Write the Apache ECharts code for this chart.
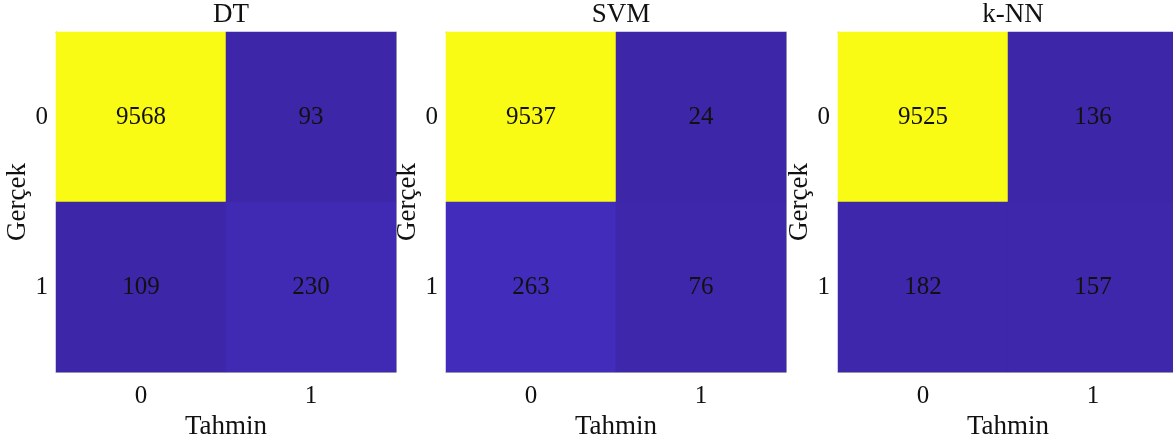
<!DOCTYPE html>
<html><head><meta charset="utf-8">
<script src="https://cdn.jsdelivr.net/npm/echarts@6/dist/echarts.min.js"></script>
<style>html,body{margin:0;padding:0;background:#fff}#c{width:1173px;height:441px}</style>
</head><body><div id="c"></div>
<script>
const modelNames = ['DT', 'SVM', 'k-NN'];
const classLabels = ['0', '1'];
const xAxisTitle = 'Tahmin';
const yAxisTitle = 'Gerçek';
// confusion matrices: [actual row][predicted col]
const dtMatrix  = [[9568, 93], [109, 230]];
const svmMatrix = [[9537, 24], [263, 76]];
const knnMatrix = [[9525, 136], [182, 157]];
const matrices = [dtMatrix, svmMatrix, knnMatrix];

const parula = [
[0.2422,0.1504,0.6603],[0.2504,0.1650,0.7076],[0.2578,0.1818,0.7511],[0.2647,0.1978,0.7952],
[0.2706,0.2147,0.8364],[0.2751,0.2342,0.8710],[0.2783,0.2559,0.8991],[0.2803,0.2782,0.9221],
[0.2813,0.3006,0.9414],[0.2810,0.3228,0.9579],[0.2795,0.3447,0.9717],[0.2760,0.3667,0.9829],
[0.2699,0.3892,0.9906],[0.2602,0.4123,0.9952],[0.2440,0.4358,0.9988],[0.2206,0.4603,0.9973],
[0.1963,0.4847,0.9892],[0.1834,0.5074,0.9798],[0.1786,0.5289,0.9682],[0.1764,0.5499,0.9520],
[0.1687,0.5703,0.9359],[0.1540,0.5902,0.9218],[0.1460,0.6091,0.9079],[0.1380,0.6276,0.8973],
[0.1248,0.6459,0.8883],[0.1113,0.6635,0.8763],[0.0952,0.6798,0.8598],[0.0689,0.6948,0.8394],
[0.0297,0.7082,0.8163],[0.0036,0.7203,0.7917],[0.0067,0.7312,0.7660],[0.0433,0.7411,0.7394],
[0.0964,0.7500,0.7120],[0.1408,0.7584,0.6842],[0.1717,0.7670,0.6554],[0.1938,0.7758,0.6251],
[0.2161,0.7843,0.5923],[0.2470,0.7918,0.5567],[0.2906,0.7973,0.5188],[0.3406,0.8008,0.4789],
[0.3909,0.8029,0.4354],[0.4456,0.8024,0.3909],[0.5044,0.7993,0.3480],[0.5616,0.7942,0.3045],
[0.6174,0.7876,0.2612],[0.6720,0.7793,0.2227],[0.7242,0.7698,0.1910],[0.7738,0.7598,0.1646],
[0.8203,0.7498,0.1535],[0.8634,0.7406,0.1596],[0.9035,0.7330,0.1774],[0.9393,0.7288,0.2100],
[0.9728,0.7298,0.2394],[0.9956,0.7434,0.2371],[0.9970,0.7659,0.2199],[0.9952,0.7893,0.2028],
[0.9892,0.8136,0.1885],[0.9786,0.8386,0.1766],[0.9676,0.8639,0.1643],[0.9610,0.8890,0.1537],
[0.9597,0.9135,0.1423],[0.9628,0.9373,0.1265],[0.9691,0.9606,0.1064],[0.9769,0.9839,0.0805]
].map(c => 'rgb(' + c.map(v => Math.round(v * 255)).join(',') + ')');

const FONT = '"Liberation Serif","Times New Roman",serif';
const grids = [
  {left: 56, top: 32, width: 340, height: 340},
  {left: 446, top: 32, width: 340, height: 340},
  {left: 838, top: 32, width: 340, height: 340}
];
const axisLineCol = '#b4b4b4';

const option = {
  backgroundColor: '#fff',
  animation: false,
  title: [], grid: [], xAxis: [], yAxis: [], series: [], visualMap: []
};

matrices.forEach((m, i) => {
  const g = grids[i];
  option.grid.push({left: g.left, top: g.top, width: g.width, height: g.height,
    containLabel: false, outerBoundsMode: 'none'});
  option.title.push({
    text: modelNames[i], left: g.left + g.width / 2, top: -4, textAlign: 'center',
    textStyle: {fontFamily: FONT, fontSize: 27, fontWeight: 'normal', color: '#111'}
  });
  const common = {
    type: 'category', data: classLabels, gridIndex: i,
    axisLine: {show: true, lineStyle: {color: axisLineCol, width: 1}},
    axisTick: {show: true, inside: true, alignWithLabel: true, length: 4, lineStyle: {color: '#666'}},
    splitLine: {show: false}
  };
  option.xAxis.push(Object.assign({}, common, {
    position: 'bottom',
    axisLabel: {fontFamily: FONT, fontSize: 25, color: '#111', margin: 12},
    name: xAxisTitle, nameLocation: 'middle', nameGap: 37,
    nameTextStyle: {fontFamily: FONT, fontSize: 27, color: '#111'}
  }));
  option.xAxis.push(Object.assign({}, common, {
    position: 'top', axisLabel: {show: false}
  }));
  option.yAxis.push(Object.assign({}, common, {
    position: 'left', inverse: true,
    axisLabel: {fontFamily: FONT, fontSize: 25, color: '#111', margin: 8},
    name: yAxisTitle, nameLocation: 'middle', nameGap: 23, nameRotate: 90,
    nameTextStyle: {fontFamily: FONT, fontSize: 27, color: '#111'}
  }));
  option.yAxis.push(Object.assign({}, common, {
    position: 'right', inverse: true, axisLabel: {show: false}
  }));
  const data = [];
  m.forEach((row, r) => row.forEach((v, c) => data.push([c, r, v])));
  const flat = m.flat();
  option.visualMap.push({
    show: false, seriesIndex: i, dimension: 2,
    min: Math.min(...flat), max: Math.max(...flat),
    inRange: {color: parula}
  });
  option.series.push({
    type: 'heatmap', xAxisIndex: 2 * i, yAxisIndex: 2 * i, data: data,
    label: {show: true, fontFamily: FONT, fontSize: 25, color: '#111',
      formatter: p => String(p.value[2])},
    itemStyle: {borderWidth: 0},
    emphasis: {disabled: true}
  });
});

const chart = echarts.init(document.getElementById('c'), null, {renderer: 'canvas'});
chart.setOption(option);
</script></body></html>
